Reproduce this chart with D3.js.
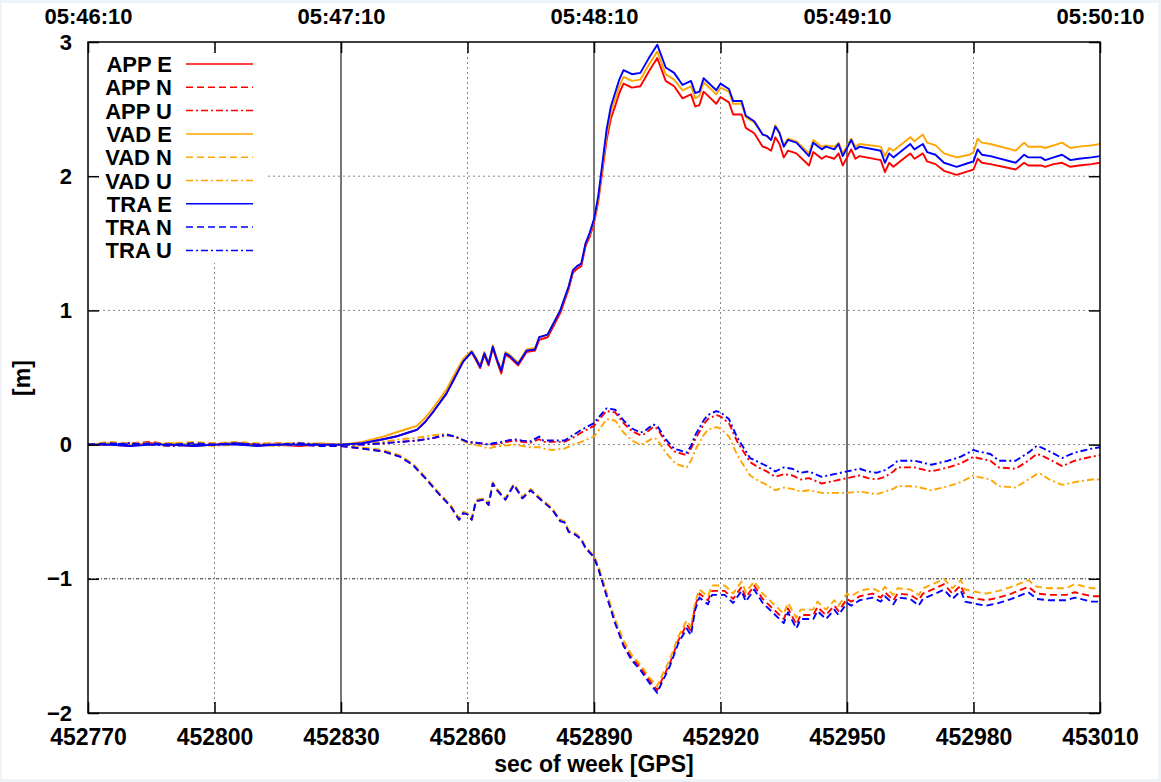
<!DOCTYPE html>
<html>
<head>
<meta charset="utf-8">
<script src="https://cdn.jsdelivr.net/npm/d3@7"></script>
<style>
  body { margin: 0; background: #eef3f7; }
  svg text { font-family: "Liberation Sans", Arial, sans-serif; font-weight: bold; fill: #000; }
</style>
</head>
<body>
<div id="chart"></div>
<script>
// tick values / labels
var xTicks = [452770, 452800, 452830, 452860, 452890, 452920, 452950, 452980, 453010];
var topTicks = [452770, 452830, 452890, 452950, 453010];
var topLabels = ["05:46:10", "05:47:10", "05:48:10", "05:49:10", "05:50:10"];
var yTicks = [-2, -1, 0, 1, 2, 3];

// East component
var secE = [452770,452775,452780,452785,452790,452795,452800,452805,452810,452815,452820,452825,452830,452835,452840,452843,452846,452848,452850,452852,452855,452857,452859,452861,452862,452863,452864,452865,452866,452867,452868,452869,452870,452872,452874,452876,452877,452879,452880,452882,452884,452885,452886,452887,452888,452889,452890,452891,452892,452893,452894,452895,452896,452897,452899,452901,452903,452905,452907,452909,452911,452913,452914,452915,452916,452917,452919,452920,452922,452923,452925,452926,452928,452930,452931,452932,452933,452934,452935,452936,452938,452941,452942,452944,452945,452947,452948,452949,452951,452952,452953,452958,452959,452960,452961,452963,452965,452966,452968,452969,452971,452973,452976,452979,452980,452981,452982,452984,452990,452992,452993,452996,452997,452999,453001,453003,453005,453008,453010];
var traE = [0.00,0.00,-0.01,0.00,0.00,-0.01,0.00,0.00,-0.01,0.00,0.00,0.00,0.00,0.01,0.04,0.06,0.09,0.11,0.17,0.25,0.38,0.50,0.62,0.69,0.64,0.58,0.68,0.60,0.73,0.63,0.55,0.68,0.66,0.60,0.70,0.71,0.80,0.82,0.88,1.00,1.18,1.30,1.33,1.35,1.50,1.58,1.68,1.85,2.10,2.35,2.52,2.62,2.72,2.79,2.76,2.77,2.88,2.98,2.81,2.77,2.68,2.71,2.62,2.63,2.73,2.70,2.64,2.69,2.65,2.56,2.56,2.45,2.41,2.31,2.30,2.27,2.37,2.32,2.22,2.27,2.25,2.15,2.25,2.20,2.22,2.20,2.24,2.15,2.27,2.20,2.22,2.19,2.10,2.17,2.14,2.19,2.24,2.20,2.24,2.18,2.16,2.10,2.07,2.10,2.11,2.20,2.16,2.15,2.10,2.16,2.14,2.14,2.12,2.14,2.16,2.12,2.13,2.14,2.15];
var appE = [0.00,0.00,-0.01,0.01,0.00,-0.01,0.00,0.01,0.00,0.00,-0.01,0.00,0.00,0.01,0.04,0.06,0.09,0.11,0.17,0.25,0.38,0.50,0.62,0.69,0.63,0.57,0.67,0.59,0.72,0.62,0.53,0.67,0.65,0.59,0.69,0.70,0.78,0.80,0.86,0.98,1.16,1.28,1.31,1.33,1.48,1.55,1.65,1.81,2.04,2.27,2.43,2.52,2.62,2.69,2.66,2.67,2.78,2.88,2.71,2.67,2.58,2.61,2.52,2.53,2.63,2.60,2.54,2.59,2.55,2.46,2.46,2.36,2.32,2.22,2.21,2.19,2.29,2.24,2.14,2.19,2.17,2.08,2.18,2.13,2.15,2.13,2.17,2.08,2.20,2.13,2.15,2.12,2.03,2.10,2.07,2.12,2.17,2.13,2.17,2.11,2.09,2.04,2.01,2.04,2.05,2.13,2.10,2.09,2.05,2.10,2.08,2.08,2.07,2.09,2.10,2.07,2.08,2.09,2.10];
var vadE = [0.00,0.01,0.00,0.00,0.01,0.00,0.00,0.01,-0.01,0.00,0.00,0.01,0.00,0.02,0.06,0.09,0.12,0.14,0.20,0.28,0.41,0.53,0.64,0.70,0.65,0.59,0.69,0.61,0.74,0.64,0.56,0.69,0.67,0.61,0.71,0.72,0.80,0.82,0.88,1.00,1.18,1.30,1.33,1.35,1.50,1.57,1.67,1.83,2.07,2.31,2.48,2.57,2.67,2.74,2.71,2.72,2.83,2.93,2.76,2.72,2.64,2.67,2.58,2.60,2.70,2.67,2.61,2.66,2.63,2.54,2.54,2.44,2.40,2.31,2.30,2.27,2.38,2.33,2.23,2.28,2.26,2.17,2.27,2.22,2.23,2.22,2.25,2.17,2.28,2.22,2.24,2.22,2.15,2.21,2.19,2.24,2.29,2.26,2.31,2.25,2.23,2.17,2.14,2.16,2.18,2.28,2.25,2.24,2.19,2.25,2.22,2.22,2.21,2.23,2.25,2.21,2.22,2.23,2.24];

// North component
var secN = [452770,452775,452780,452785,452790,452795,452800,452805,452810,452815,452820,452825,452830,452835,452840,452844,452847,452850,452853,452856,452858,452859,452860,452861,452862,452864,452865,452866,452867,452869,452871,452873,452875,452877,452880,452882,452883,452884,452885,452886,452887,452888,452890,452891,452893,452895,452897,452899,452901,452903,452905,452906,452908,452910,452912,452913,452914,452915,452917,452918,452921,452923,452925,452926,452928,452930,452932,452935,452936,452938,452939,452942,452943,452945,452947,452948,452950,452951,452953,452956,452958,452959,452961,452962,452965,452967,452968,452971,452973,452975,452977,452978,452981,452983,452986,452989,452993,452995,452998,453002,453004,453008,453010];
var traN = [0.00,0.01,0.00,0.01,0.00,0.01,0.00,0.01,0.00,0.00,0.00,-0.01,-0.01,-0.03,-0.05,-0.09,-0.15,-0.25,-0.36,-0.46,-0.56,-0.51,-0.52,-0.56,-0.42,-0.41,-0.45,-0.29,-0.34,-0.41,-0.30,-0.40,-0.34,-0.40,-0.48,-0.57,-0.58,-0.65,-0.66,-0.68,-0.71,-0.77,-0.84,-0.92,-1.13,-1.33,-1.50,-1.61,-1.68,-1.77,-1.85,-1.78,-1.65,-1.48,-1.37,-1.42,-1.23,-1.14,-1.19,-1.12,-1.12,-1.18,-1.09,-1.17,-1.08,-1.18,-1.24,-1.33,-1.25,-1.37,-1.30,-1.30,-1.24,-1.30,-1.23,-1.27,-1.18,-1.20,-1.16,-1.14,-1.17,-1.13,-1.19,-1.14,-1.15,-1.20,-1.15,-1.11,-1.08,-1.15,-1.09,-1.17,-1.19,-1.20,-1.18,-1.15,-1.10,-1.15,-1.16,-1.16,-1.14,-1.17,-1.17];
var appN = [0.00,0.01,0.01,0.02,0.00,0.01,0.01,0.01,0.00,0.01,0.00,-0.01,-0.01,-0.03,-0.05,-0.09,-0.15,-0.25,-0.36,-0.46,-0.56,-0.51,-0.52,-0.56,-0.42,-0.41,-0.45,-0.29,-0.34,-0.41,-0.30,-0.40,-0.34,-0.40,-0.48,-0.57,-0.58,-0.65,-0.66,-0.68,-0.71,-0.77,-0.84,-0.92,-1.12,-1.32,-1.49,-1.59,-1.66,-1.75,-1.83,-1.76,-1.63,-1.46,-1.34,-1.39,-1.20,-1.11,-1.16,-1.09,-1.09,-1.15,-1.06,-1.14,-1.05,-1.15,-1.21,-1.30,-1.22,-1.34,-1.27,-1.27,-1.21,-1.27,-1.20,-1.24,-1.15,-1.17,-1.13,-1.11,-1.14,-1.10,-1.16,-1.11,-1.12,-1.16,-1.11,-1.07,-1.04,-1.11,-1.05,-1.13,-1.15,-1.16,-1.14,-1.11,-1.06,-1.11,-1.12,-1.12,-1.10,-1.13,-1.13];
var vadN = [0.00,0.02,0.01,0.01,0.01,0.02,0.01,0.02,0.01,0.01,0.01,0.00,0.00,-0.02,-0.04,-0.08,-0.14,-0.24,-0.35,-0.45,-0.55,-0.50,-0.51,-0.55,-0.41,-0.40,-0.44,-0.28,-0.33,-0.40,-0.29,-0.39,-0.33,-0.39,-0.47,-0.56,-0.57,-0.64,-0.65,-0.67,-0.70,-0.76,-0.83,-0.90,-1.10,-1.30,-1.46,-1.57,-1.64,-1.73,-1.80,-1.73,-1.60,-1.43,-1.31,-1.36,-1.17,-1.08,-1.13,-1.05,-1.05,-1.11,-1.02,-1.10,-1.02,-1.11,-1.17,-1.26,-1.18,-1.29,-1.23,-1.23,-1.17,-1.23,-1.16,-1.20,-1.11,-1.13,-1.09,-1.07,-1.10,-1.06,-1.12,-1.07,-1.08,-1.12,-1.07,-1.03,-1.00,-1.07,-1.01,-1.08,-1.10,-1.11,-1.09,-1.06,-1.01,-1.06,-1.07,-1.07,-1.04,-1.07,-1.07];

// Up component
var secU = [452770,452775,452780,452785,452790,452795,452800,452805,452810,452815,452820,452825,452830,452835,452840,452844,452848,452852,452855,452857,452860,452863,452865,452866,452868,452871,452873,452875,452877,452878,452880,452883,452885,452887,452890,452891,452893,452895,452897,452899,452901,452902,452904,452905,452907,452909,452910,452912,452913,452914,452916,452917,452919,452920,452922,452923,452924,452926,452927,452929,452931,452933,452935,452937,452939,452941,452944,452947,452950,452953,452955,452957,452959,452961,452962,452966,452970,452974,452977,452980,452981,452984,452986,452990,452993,452995,452996,452998,453001,453004,453008,453010];
var traU = [0.00,0.00,0.01,0.00,-0.01,0.00,0.00,0.01,0.00,0.00,0.01,0.00,0.00,0.00,0.01,0.02,0.03,0.05,0.075,0.06,0.02,0.01,0.00,0.01,0.02,0.04,0.03,0.025,0.06,0.03,0.03,0.03,0.07,0.11,0.16,0.20,0.27,0.26,0.18,0.12,0.09,0.10,0.15,0.14,0.04,-0.03,-0.04,-0.06,-0.01,0.07,0.18,0.22,0.25,0.24,0.19,0.12,0.05,-0.05,-0.10,-0.13,-0.16,-0.20,-0.17,-0.18,-0.21,-0.20,-0.24,-0.22,-0.20,-0.18,-0.20,-0.21,-0.19,-0.15,-0.12,-0.12,-0.15,-0.12,-0.09,-0.04,-0.05,-0.07,-0.12,-0.12,-0.06,-0.01,-0.02,-0.05,-0.10,-0.06,-0.03,-0.02];
var appU = [0.00,0.00,0.01,0.00,-0.01,0.00,0.00,0.01,0.00,0.00,0.01,0.00,0.00,0.00,0.01,0.02,0.03,0.05,0.07,0.06,0.02,0.01,0.00,0.00,0.01,0.03,0.02,0.015,0.04,0.02,0.02,0.02,0.05,0.09,0.14,0.18,0.25,0.24,0.16,0.10,0.07,0.08,0.13,0.12,0.02,-0.05,-0.06,-0.08,-0.03,0.04,0.15,0.19,0.22,0.21,0.16,0.09,0.02,-0.08,-0.13,-0.17,-0.20,-0.24,-0.22,-0.23,-0.26,-0.25,-0.29,-0.27,-0.25,-0.23,-0.25,-0.26,-0.24,-0.20,-0.17,-0.17,-0.20,-0.17,-0.14,-0.09,-0.10,-0.12,-0.17,-0.18,-0.12,-0.07,-0.08,-0.11,-0.16,-0.12,-0.09,-0.08];
var vadU = [0.00,0.00,0.00,0.00,-0.01,0.00,-0.01,0.00,0.00,-0.01,0.00,0.00,0.00,0.01,0.02,0.04,0.05,0.07,0.08,0.06,0.01,-0.01,-0.03,-0.02,-0.01,0.00,-0.01,-0.02,-0.02,-0.03,-0.04,-0.03,0.00,0.02,0.06,0.10,0.19,0.18,0.09,0.03,0.00,0.01,0.05,0.04,-0.06,-0.13,-0.15,-0.17,-0.12,-0.04,0.07,0.11,0.13,0.12,0.06,-0.01,-0.08,-0.18,-0.23,-0.27,-0.30,-0.34,-0.32,-0.33,-0.35,-0.34,-0.36,-0.36,-0.36,-0.35,-0.36,-0.37,-0.35,-0.33,-0.31,-0.31,-0.34,-0.31,-0.28,-0.23,-0.24,-0.26,-0.31,-0.32,-0.26,-0.22,-0.22,-0.26,-0.30,-0.28,-0.26,-0.26];

var names = ["APP E", "APP N", "APP U", "VAD E", "VAD N", "VAD U", "TRA E", "TRA N", "TRA U"];

(function(){
    var width = 1161,
        height = 782;

    var red = "#ff0000", orange = "#ffa500", blue = "#0000ff";
    var dashN = "7,4", dashU = "7,3,2,3";

    var series = [
        {t: secE, v: appE, color: red, dash: null},
        {t: secN, v: appN, color: red, dash: dashN},
        {t: secU, v: appU, color: red, dash: dashU},
        {t: secE, v: vadE, color: orange, dash: null},
        {t: secN, v: vadN, color: orange, dash: dashN},
        {t: secU, v: vadU, color: orange, dash: dashU},
        {t: secE, v: traE, color: blue, dash: null},
        {t: secN, v: traN, color: blue, dash: dashN},
        {t: secU, v: traU, color: blue, dash: dashU}
    ];

    var svg = d3.select("#chart")
        .append("svg")
        .attr("width", width)
        .attr("height", height);

    svg.append("rect")
        .attr("x", 2).attr("y", 3)
        .attr("width", width - 5).attr("height", height - 6)
        .attr("fill", "#fff");

    var x = d3.scaleLinear().domain([452770, 453010]).range([88, 1100]);
    var y = d3.scaleLinear().domain([-2, 3]).range([713, 42]);

    svg.append("defs").append("clipPath")
        .attr("id", "plot-clip")
        .append("rect")
        .attr("x", x.range()[0]).attr("y", y.range()[1])
        .attr("width", x.range()[1] - x.range()[0])
        .attr("height", y.range()[0] - y.range()[1]);

    // grid
    var grid = svg.append("g");
    grid.selectAll(".vgrid")
        .data(xTicks.filter(function(d){ return topTicks.indexOf(d) < 0; }))
        .enter().append("line")
        .attr("x1", x).attr("x2", x)
        .attr("y1", y(3)).attr("y2", y(-2))
        .attr("stroke", "#888")
        .attr("stroke-width", 1)
        .attr("stroke-dasharray", "2,3");

    grid.selectAll(".vsolid")
        .data(topTicks.slice(1, -1))
        .enter().append("line")
        .attr("x1", x).attr("x2", x)
        .attr("y1", y(3)).attr("y2", y(-2))
        .attr("stroke", function(d, i){ return i < 2 ? "#777" : "#222"; })
        .attr("stroke-width", function(d, i){ return i < 2 ? 2 : 1.3; });

    grid.selectAll(".hgrid")
        .data(yTicks.slice(1, -1))
        .enter().append("line")
        .attr("x1", x(452770)).attr("x2", x(453010))
        .attr("y1", y).attr("y2", y)
        .attr("stroke", function(d){ return d === -1 ? "#222" : "#888"; })
        .attr("stroke-width", 1)
        .attr("stroke-dasharray", function(d){ return d === -1 ? "3,2,1,2" : "2,3"; });

    // data
    var line = d3.line()
        .x(function(d){ return x(d[0]); })
        .y(function(d){ return y(d[1]); });

    svg.append("g")
        .attr("clip-path", "url(#plot-clip)")
        .selectAll(".series")
        .data(series)
        .enter().append("path")
        .attr("d", function(s){ return line(d3.zip(s.t, s.v)); })
        .attr("fill", "none")
        .attr("stroke", function(s){ return s.color; })
        .attr("stroke-width", 1.9)
        .attr("stroke-linejoin", "round")
        .attr("stroke-dasharray", function(s){ return s.dash; });

    // legend
    svg.append("rect")
        .attr("x", 89).attr("y", 53)
        .attr("width", 177).attr("height", 210)
        .attr("fill", "#fff");

    var legend = svg.append("g")
        .selectAll(".key")
        .data(series)
        .enter().append("g")
        .attr("transform", function(d, i){ return "translate(0," + (72 + i * 23.3) + ")"; });

    legend.append("text")
        .attr("x", 172)
        .attr("text-anchor", "end")
        .style("font-size", "22px")
        .text(function(d, i){ return names[i]; });

    legend.append("line")
        .attr("x1", 186).attr("x2", 253)
        .attr("y1", -8).attr("y2", -8)
        .attr("stroke", function(s){ return s.color; })
        .attr("stroke-width", 1.5)
        .attr("stroke-dasharray", function(s){ return s.dash; });

    // border
    svg.append("rect")
        .attr("x", x(452770)).attr("y", y(3))
        .attr("width", x(453010) - x(452770))
        .attr("height", y(-2) - y(3))
        .attr("fill", "none")
        .attr("stroke", "#000")
        .attr("stroke-width", 1.5);

    // axes
    function styleAxis(size){
        return function(g){
            g.select(".domain").remove();
            g.selectAll(".tick line").attr("stroke", "#000").attr("stroke-width", 1.5);
            g.selectAll(".tick text").style("font-size", size + "px").attr("fill", "#000");
        };
    }

    svg.append("g")
        .attr("transform", "translate(0," + y(-2) + ")")
        .call(d3.axisBottom(x).tickValues(xTicks).tickFormat(d3.format("d"))
            .tickSize(-11).tickSizeOuter(0).tickPadding(16))
        .call(styleAxis(23));

    svg.append("g")
        .attr("transform", "translate(0," + y(3) + ")")
        .call(d3.axisTop(x).tickValues(xTicks)
            .tickFormat(function(d){
                var i = topTicks.indexOf(d);
                return i < 0 ? "" : topLabels[i];
            })
            .tickSize(-11).tickSizeOuter(0).tickPadding(18))
        .call(styleAxis(22));

    svg.append("g")
        .attr("transform", "translate(" + x(452770) + ",0)")
        .call(d3.axisLeft(y).tickValues(yTicks).tickFormat(d3.format("d"))
            .tickSize(-11).tickSizeOuter(0).tickPadding(16))
        .call(styleAxis(22));

    svg.append("g")
        .attr("transform", "translate(" + x(453010) + ",0)")
        .call(d3.axisRight(y).tickValues(yTicks).tickFormat("")
            .tickSize(-11).tickSizeOuter(0))
        .call(styleAxis(22));

    // axis titles
    svg.append("text")
        .attr("x", 594).attr("y", 772)
        .attr("text-anchor", "middle")
        .style("font-size", "23px")
        .text("sec of week [GPS]");

    svg.append("text")
        .attr("transform", "translate(30,378) rotate(-90)")
        .attr("text-anchor", "middle")
        .style("font-size", "23px")
        .text("[m]");
})();
</script>
</body>
</html>
